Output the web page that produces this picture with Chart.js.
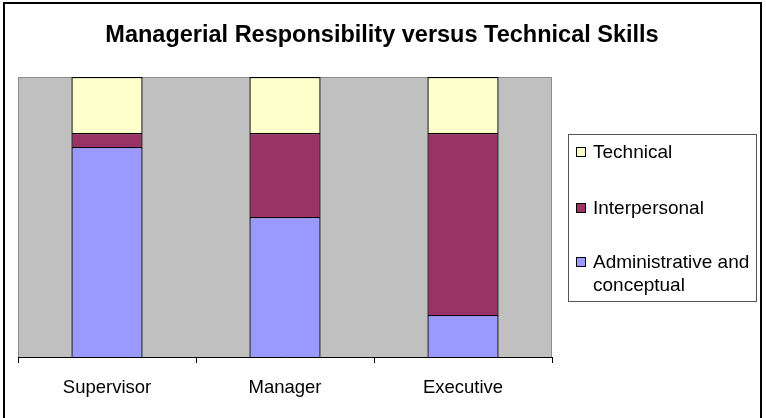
<!DOCTYPE html>
<html>
<head>
<meta charset="utf-8">
<script src="https://cdn.jsdelivr.net/npm/chart.js@4/dist/chart.umd.min.js"></script>
<style>
  html, body { margin: 0; padding: 0; background: #fff; }
  #wrap { width: 766px; height: 418px; }
</style>
</head>
<body>
<div id="wrap"><canvas id="myChart" width="766" height="418"></canvas></div>
<script>
'use strict'
let levels = ['Supervisor', 'Manager', 'Executive'];
let adminValues = [75, 50, 15];
let interpersonalValues = [5, 30, 65];
let technicalValues = [20, 20, 20];
let seriesNames = ['Administrative and conceptual', 'Interpersonal', 'Technical'];
let chartTitle = 'Managerial Responsibility versus Technical Skills';

let fontName = '"Liberation Sans", Arial, sans-serif';

// gray plot area, outer frame, title and the boxed legend
let decorPlugin = {
    id: 'decor',
    beforeDraw(chart) {
        let ctx = chart.ctx;
        let a = chart.chartArea;
        ctx.save();
        ctx.fillStyle = '#ffffff';
        ctx.fillRect(0, 0, chart.width, chart.height);
        ctx.fillStyle = '#c0c0c0';
        ctx.fillRect(a.left, a.top, a.right - a.left, a.bottom - a.top);
        ctx.strokeStyle = '#8c8c8c';
        ctx.lineWidth = 1;
        ctx.strokeRect(a.left + 0.5, a.top + 0.5, a.right - a.left - 1, a.bottom - a.top);
        ctx.restore();
    },
    afterDraw(chart) {
        let ctx = chart.ctx;
        ctx.save();
        // frame
        ctx.strokeStyle = '#000';
        ctx.lineWidth = 2;
        ctx.strokeRect(4, 3, 757, 430);
        // title
        ctx.fillStyle = '#000';
        ctx.font = 'bold 23.5px ' + fontName;
        ctx.textAlign = 'center';
        ctx.textBaseline = 'alphabetic';
        ctx.fillText(chartTitle, 382, 42);
        // legend
        ctx.strokeStyle = '#555';
        ctx.lineWidth = 1;
        ctx.strokeRect(568.5, 134.5, 188, 167);
        ctx.font = '19px ' + fontName;
        ctx.textAlign = 'left';
        ctx.textBaseline = 'middle';
        let rows = [[152], [208], [262, 285]];
        let ds = chart.data.datasets;
        for (let i = 0; i < ds.length; i++) {
            let d = ds[ds.length - 1 - i];
            let ys = rows[i];
            ctx.fillStyle = d.backgroundColor;
            ctx.fillRect(576, ys[0] - 5, 10, 10);
            ctx.strokeStyle = '#000';
            ctx.strokeRect(576.5, ys[0] - 4.5, 9, 9);
            ctx.fillStyle = '#000';
            let lines = d.label === 'Administrative and conceptual' ? ['Administrative and', 'conceptual'] : [d.label];
            for (let j = 0; j < lines.length; j++) {
                ctx.fillText(lines[j], 593, ys[j] + 1);
            }
        }
        ctx.restore();
    }
};

function chartRender() {
    let ctx = document.getElementById('myChart').getContext('2d');
    let myChart = new Chart(ctx, {
        type: 'bar',
        data: {
            labels: levels,
            datasets: [{
                label: seriesNames[0],
                data: adminValues,
                backgroundColor: '#9999ff',
                borderColor: '#000',
                borderWidth: 1.3
            }, {
                label: seriesNames[1],
                data: interpersonalValues,
                backgroundColor: '#993366',
                borderColor: '#000',
                borderWidth: 1.3
            }, {
                label: seriesNames[2],
                data: technicalValues,
                backgroundColor: '#ffffcc',
                borderColor: '#000',
                borderWidth: 1.3
            }]
        },
        options: {
            responsive: false,
            animation: false,
            devicePixelRatio: 1,
            layout: { padding: { left: 18, top: 77, right: 214, bottom: 0 } },
            datasets: { bar: { barPercentage: 0.4, categoryPercentage: 1 } },
            plugins: {
                legend: { display: false },
                title: { display: false },
                tooltip: { enabled: false }
            },
            scales: {
                x: {
                    stacked: true,
                    afterFit(scale) { scale.height = 61; },
                    grid: { offset: true, drawOnChartArea: false, drawTicks: true, tickLength: 6, color: '#000' },
                    border: { color: '#000', width: 1 },
                    ticks: { color: '#000', padding: 14, font: { family: fontName, size: 18.5 } }
                },
                y: {
                    stacked: true,
                    display: false,
                    min: 0,
                    max: 100
                }
            }
        },
        plugins: [decorPlugin]
    });
}

chartRender();
</script>
</body>
</html>
